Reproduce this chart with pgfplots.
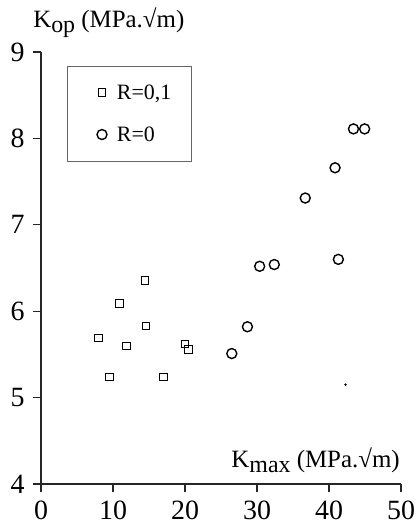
\documentclass[border=0pt]{standalone}
\usepackage{pgfplots}
\pgfplotsset{compat=1.18}
\usepackage{fontspec}
\setmainfont{Liberation Serif}
\begin{document}
\begin{tikzpicture}
\begin{axis}[
  scale only axis, width=360bp, height=432bp,
  xmin=0, xmax=50, ymin=4, ymax=9,
  axis lines=left,
  axis line style={-, line width=1.1bp, black!85},
  xtick={0,10,...,50}, ytick={4,...,9},
  tick align=outside, major tick length=8bp,
  tick style={line width=1.1bp, black!85},
  ticklabel style={font=\fontsize{28}{28}\selectfont},
  /pgf/number format/assume math mode=true,
  xticklabel style={yshift=-5bp},
  yticklabel style={xshift=-5bp},
  clip=false,
  xlabel={K\raisebox{-5bp}{\fontsize{24}{24}\selectfont max} (MPa.√m)},
  xlabel style={font=\fontsize{25}{25}\selectfont, inner sep=0pt, at={(rel axis cs:0.997,0.039)}, anchor=base east},
  ylabel={K\raisebox{-5bp}{\fontsize{24}{24}\selectfont op} (MPa.√m)},
  ylabel style={font=\fontsize{25}{25}\selectfont, inner sep=0pt, rotate=-90, at={(rel axis cs:-0.022,1.0556)}, anchor=base west},
  legend style={draw=none, fill=none, at={(rel axis cs:0.155,0.930)}, anchor=north west,
    font=\fontsize{22}{22}\selectfont, inner xsep=0bp, inner ysep=0bp, row sep=22bp,
    /tikz/every odd column/.append style={column sep=8bp}},
  legend cell align=left,
]
\addplot[only marks, mark=square, mark size=3.8bp, mark options={line width=0.8bp}, black]
  coordinates {(7.96,5.69)(9.5,5.24)(10.9,6.09)(11.9,5.60)(14.45,6.36)(14.55,5.83)(16.97,5.24)(20.0,5.62)(20.46,5.56)};
\addlegendentry{R=0,1}
\addplot[only marks, mark=o, mark size=5bp, mark options={line width=1.4bp}, black]
  coordinates {(43.4,8.11)(44.95,8.11)(40.84,7.66)(36.7,7.31)(41.3,6.60)(30.37,6.52)(32.4,6.54)(28.67,5.82)(26.5,5.51)};
\addlegendentry{R=0}
\addplot[only marks, mark=*, mark size=1bp, black, forget plot] coordinates {(42.3,5.15)};
\draw[black!60, line width=0.6bp] (rel axis cs:0.072,0.967) rectangle (rel axis cs:0.418,0.747);
\coordinate (bl) at (rel axis cs:-0.1139,-0.0995);
\coordinate (tr) at (rel axis cs:1.04,1.1204);
\end{axis}
\pgfresetboundingbox
\path[use as bounding box] (bl) rectangle (tr);
\end{tikzpicture}
\end{document}
